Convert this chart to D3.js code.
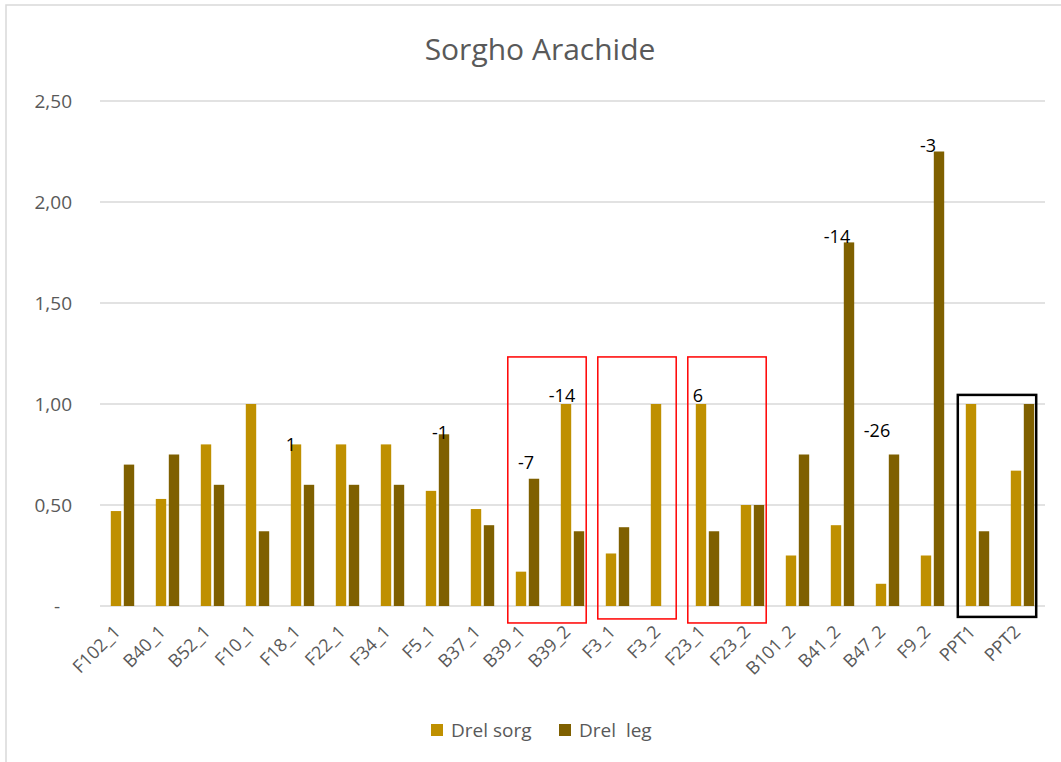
<!DOCTYPE html>
<html>
<head>
<meta charset="utf-8">
<script src="https://cdn.jsdelivr.net/npm/d3@7"></script>
<style>
  body { margin: 0; background: #fff; }
  svg { display: block; font-family: "Open Sans", sans-serif; }
</style>
</head>
<body>
<div id="container"></div>
<script>
var width = 1061;
var height = 762;

// data
var categories = ["F102_1", "B40_1", "B52_1", "F10_1", "F18_1", "F22_1", "F34_1", "F5_1", "B37_1",
    "B39_1", "B39_2", "F3_1", "F3_2", "F23_1", "F23_2", "B101_2", "B41_2", "B47_2", "F9_2", "PPT1", "PPT2"];
var drelSorg = [0.47, 0.53, 0.80, 1.00, 0.80, 0.80, 0.80, 0.57, 0.48,
    0.17, 1.00, 0.26, 1.00, 1.00, 0.50, 0.25, 0.40, 0.11, 0.25, 1.00, 0.67];
var drelLeg = [0.70, 0.75, 0.60, 0.37, 0.60, 0.60, 0.60, 0.85, 0.40,
    0.63, 0.37, 0.39, 0, 0.37, 0.50, 0.75, 1.80, 0.75, 2.25, 0.37, 1.00];
var seriesNames = ["Drel sorg", "Drel  leg"];
var yTicks = [0, 0.5, 1, 1.5, 2, 2.5];

// small hand-written labels over some bars (y in data units)
var noteCats = ["F18_1", "F5_1", "B39_1", "B39_2", "F23_1", "B41_2", "B47_2", "F9_2"];
var noteSeries = [0, 1, 1, 0, 0, 1, 1, 1];
var noteTexts = ["1", "-1", "-7", "-14", "6", "-14", "-26", "-3"];
var noteLevels = [0.80, 0.86, 0.71, 1.04, 1.04, 1.83, 0.87, 2.28];
var noteShift = [-5, -4, -8, -4, -3, -12, -17, -11];

// boxes drawn around category pairs
var boxFrom = ["B39_1", "F3_1", "F23_1", "PPT1"];
var boxTo = ["B39_2", "F3_2", "F23_2", "PPT2"];
var boxTop = [1.233, 1.233, 1.233, 1.045];
var boxBottom = [-0.084, -0.064, -0.084, -0.054];
var boxColor = ["#ff0000", "#ff0000", "#ff0000", "#000000"];

var colors = ["#bf9000", "#7f6000"];

var svg = d3.select("div#container").append("svg")
    .attr("width", width)
    .attr("height", height);

// chart frame (only top and left edges show)
svg.append("rect")
    .attr("x", 6).attr("y", 5)
    .attr("width", width + 20).attr("height", height + 20)
    .attr("fill", "#fff")
    .attr("stroke", "#d9d9d9")
    .attr("stroke-width", 1.5);

var x = d3.scaleBand()
    .domain(categories)
    .range([100, 1045])
    .paddingInner(0.48)
    .paddingOuter(0.24);

var xInner = d3.scaleBand()
    .domain([0, 1])
    .range([0, x.bandwidth()])
    .paddingInner(0.2);

var y = d3.scaleLinear()
    .domain([0, 2.5])
    .range([606, 101]);

// title
svg.append("text")
    .attr("x", 540).attr("y", 60)
    .attr("text-anchor", "middle")
    .attr("fill", "#595959")
    .style("font-size", "30px")
    .text("Sorgho Arachide");

// gridlines
svg.append("g").selectAll("line")
    .data(yTicks)
    .enter()
    .append("line")
    .attr("x1", 100).attr("x2", 1045)
    .attr("y1", function(d) { return y(d); })
    .attr("y2", function(d) { return y(d); })
    .attr("stroke", "#d9d9d9")
    .attr("stroke-width", 1.5);

// y labels
var yAxis = d3.axisLeft(y)
    .tickValues(yTicks)
    .tickSize(0)
    .tickPadding(0)
    .tickFormat(function(d) { return d === 0 ? "-" : d.toFixed(2).replace(".", ","); });

var yg = svg.append("g")
    .attr("transform", "translate(72,0)")
    .call(yAxis);
yg.select(".domain").remove();
yg.selectAll("text")
    .attr("fill", "#595959")
    .style("font-size", "19px")
    .style("font-family", "'Open Sans', sans-serif")
    .attr("dx", function(d) { return d === 0 ? -12 : 0; });

// bars
var groups = svg.append("g").selectAll("g")
    .data(categories)
    .enter()
    .append("g")
    .attr("transform", function(d) { return "translate(" + x(d) + ",0)"; });

groups.selectAll("rect")
    .data(function(d, i) { return [drelSorg[i], drelLeg[i]]; })
    .enter()
    .append("rect")
    .attr("x", function(d, j) { return xInner(j); })
    .attr("width", xInner.bandwidth())
    .attr("y", function(d) { return y(d); })
    .attr("height", function(d) { return y(0) - y(d); })
    .attr("fill", function(d, j) { return colors[j]; });

// x labels, rotated
var xAxis = d3.axisBottom(x).tickSize(0).tickPadding(0);
var xg = svg.append("g")
    .attr("transform", "translate(0,606)")
    .call(xAxis);
xg.select(".domain").remove();
xg.selectAll("text")
    .attr("fill", "#595959")
    .style("font-size", "18px")
    .style("font-family", "'Open Sans', sans-serif")
    .attr("text-anchor", "end")
    .attr("dy", 0)
    .attr("transform", "translate(-1,27) rotate(-45)");

// notes
noteTexts.forEach(function(t, i) {
    var bx = x(noteCats[i]) + xInner(noteSeries[i]) + xInner.bandwidth() / 2 + noteShift[i];
    svg.append("text")
        .attr("x", bx)
        .attr("y", y(noteLevels[i]))
        .attr("dy", "0.35em")
        .attr("text-anchor", "middle")
        .attr("fill", "#000")
        .style("font-size", "18px")
        .text(t);
});

// boxes
boxFrom.forEach(function(c, i) {
    var x0 = x(c) - 8;
    var x1 = x(boxTo[i]) + x.bandwidth() + 2;
    svg.append("rect")
        .attr("x", x0)
        .attr("y", y(boxTop[i]))
        .attr("width", x1 - x0)
        .attr("height", y(boxBottom[i]) - y(boxTop[i]))
        .attr("fill", "none")
        .attr("stroke", boxColor[i])
        .attr("stroke-width", boxColor[i] === "#000000" ? 2.5 : 1.5);
});

// legend
var legend = svg.append("g").selectAll("g")
    .data(seriesNames)
    .enter()
    .append("g")
    .attr("transform", function(d, i) { return "translate(" + (431 + i * 128) + ",724)"; });

legend.append("rect")
    .attr("width", 12).attr("height", 12)
    .attr("fill", function(d, i) { return colors[i]; });

legend.append("text")
    .attr("x", 20).attr("y", 13)
    .attr("fill", "#595959")
    .style("font-size", "19px")
    .style("white-space", "pre")
    .text(function(d) { return d; });
</script>
</body>
</html>
